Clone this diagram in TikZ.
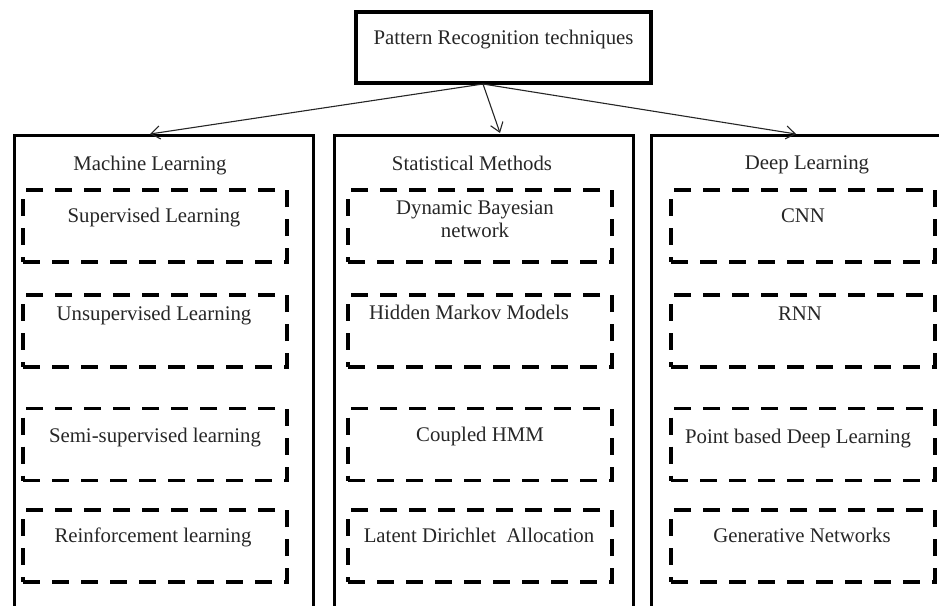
\documentclass[tikz,border=0pt]{standalone}
\usepackage{fontspec}
\setmainfont{Liberation Serif}
\usetikzlibrary{arrows.meta}
\begin{document}
\begin{tikzpicture}[x=1pt,y=-1pt,
  solidbox/.style={draw, line width=3.4pt, inner sep=0pt},
  dbox/.style={draw, line width=3.6pt, dash pattern=on 17pt off 12pt, minimum width=264pt, minimum height=72pt, inner sep=0pt},
  txt/.style={anchor=base, inner sep=0pt, text=black!85, font=\fontsize{20.8}{25}\selectfont},
  conn/.style={line width=1.1pt, draw=black!85, -{Straight Barb[length=9pt,width=13pt,line width=1.1pt]}}]
\useasboundingbox (0,0) rectangle (939,605);
\clip (0,0) rectangle (939,605);

% top box
\node[solidbox, minimum width=295pt, minimum height=71pt] (top) at (503.5,47.5) {};
\node[txt] (toptxt) at (503.5,44) {Pattern Recognition techniques};

% columns
\node[solidbox, anchor=north west, minimum width=299pt, minimum height=560pt] (ml) at (13,134) {};
\node[solidbox, anchor=north west, minimum width=299pt, minimum height=560pt] (sm) at (333,134) {};
\node[solidbox, anchor=north west, minimum width=350pt, minimum height=560pt] (dl) at (650,134) {};

% connectors
\coordinate (src) at (483,84);
\coordinate (mlin) at (150,134);
\coordinate (smin) at (500,133);
\coordinate (dlin) at (796,134);
\draw[conn] (src) -- (mlin);
\draw[conn] (src) -- (smin);
\draw[conn] (src) -- (dlin);

% titles
\node[txt] (mlt) at (150,170) {Machine Learning};
\node[txt] (smt) at (472,170) {Statistical Methods};
\node[txt] (dlt) at (807,169) {Deep Learning};

% machine learning boxes
\node[dbox] (ml1) at (155,226) {};
\node[dbox] (ml2) at (155,331) {};
\node[dbox] (ml3) at (155,444.5) {};
\node[dbox] (ml4) at (155,546) {};
\node[txt] (ml1t) at (154,222) {Supervised Learning};
\node[txt] (ml2t) at (154,320) {Unsupervised Learning};
\node[txt] (ml3t) at (155,442) {Semi-supervised learning};
\node[txt] (ml4t) at (153,542) {Reinforcement learning};

% statistical methods boxes
\node[dbox] (sm1) at (480,226) {};
\node[dbox] (sm2) at (480,331) {};
\node[dbox] (sm3) at (480,444.5) {};
\node[dbox] (sm4) at (480,546) {};
\node[txt] (sm1t) at (475,214) {Dynamic Bayesian};
\node[txt] (sm1u) at (475,237) {network};
\node[txt] (sm2t) at (469,319) {Hidden Markov Models};
\node[txt] (sm3t) at (480,441) {Coupled HMM};
\node[txt] (sm4t) at (479,542) {Latent Dirichlet\ \ Allocation};

% deep learning boxes
\node[dbox] (dl1) at (803,226) {};
\node[dbox] (dl2) at (803,331) {};
\node[dbox] (dl3) at (803,444.5) {};
\node[dbox] (dl4) at (803,546) {};
\node[txt] (dl1t) at (803,222) {CNN};
\node[txt] (dl2t) at (800,320) {RNN};
\node[txt] (dl3t) at (798,443) {Point based Deep Learning};
\node[txt] (dl4t) at (802,542) {Generative Networks};
\end{tikzpicture}
\end{document}
